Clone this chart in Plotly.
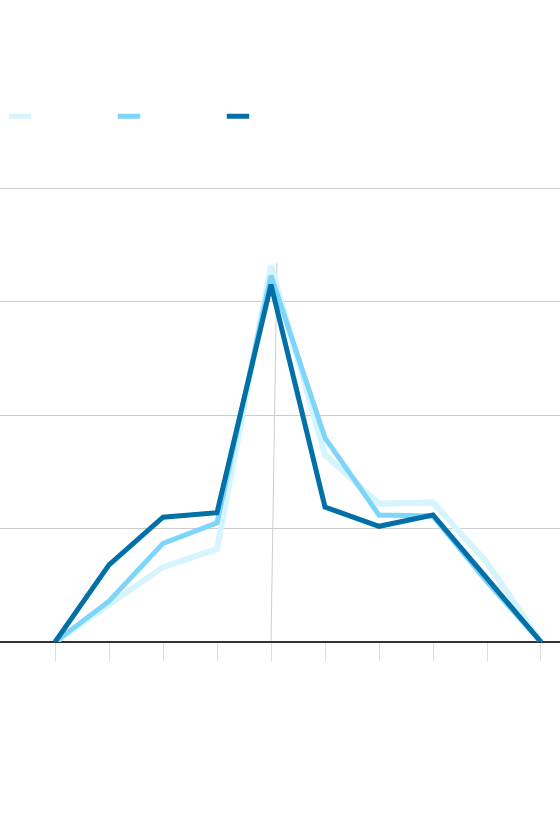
import plotly.graph_objects as go

# ---------- data ----------
x_vals = [0, 1, 2, 3, 4, 5, 6, 7, 8, 9]
light_vals = [0, 0.33, 0.66, 0.82, 3.32, 1.65, 1.22, 1.23, 0.70, 0]
mid_vals = [0, 0.36, 0.87, 1.05, 3.23, 1.80, 1.12, 1.11, 0.53, 0]
dark_vals = [0, 0.68, 1.10, 1.14, 3.15, 1.19, 1.02, 1.12, 0.56, 0]

series_names = ["", "", ""]
series_colors = ["#d5f4fd", "#7dd5fb", "#0070a6"]
series_widths = [6, 5, 5]

# thin marker line near the peak
marker_x = [4.11, 4.0]
marker_y = [3.34, 0]

fig = go.Figure()

for vals, color, width in zip(
    [light_vals, mid_vals, dark_vals], series_colors, series_widths
):
    fig.add_trace(go.Scatter(
        x=x_vals,
        y=vals,
        mode="lines",
        line=dict(color=color, width=width),
        showlegend=False,
        hoverinfo="skip",
    ))

# legend swatches (short dashes)
for name, color in zip(series_names, series_colors):
    fig.add_trace(go.Scatter(
        x=[None],
        y=[None],
        mode="markers",
        name=name,
        marker=dict(symbol="line-ew", size=16,
                    line=dict(color=color, width=5)),
    ))

fig.add_shape(
    type="line",
    x0=marker_x[0], y0=marker_y[0], x1=marker_x[1], y1=marker_y[1],
    line=dict(color="#cccccc", width=1),
    layer="below",
)

fig.update_layout(
    width=560,
    height=840,
    margin=dict(l=0, r=0, t=186, b=198),
    plot_bgcolor="white",
    paper_bgcolor="white",
    showlegend=True,
    legend=dict(
        orientation="h",
        x=0,
        xanchor="left",
        y=1.153,
        yanchor="middle",
        entrywidth=64,
        entrywidthmode="pixels",
        itemwidth=30,
        font=dict(size=12, color="#333"),
    ),
    xaxis=dict(
        range=[-1.019, 9.352],
        showgrid=False,
        zeroline=False,
        showticklabels=False,
        ticks="outside",
        ticklen=18,
        tickcolor="#dddddd",
        tickwidth=1,
        tickvals=x_vals,
        showline=False,
    ),
    yaxis=dict(
        range=[0, 4.02],
        showgrid=True,
        gridcolor="#cccccc",
        gridwidth=1,
        dtick=1,
        zeroline=True,
        zerolinecolor="#333333",
        zerolinewidth=2,
        showticklabels=False,
    ),
)

fig.write_html(
    "out.html",
    config={"displayModeBar": False},
    post_script="document.body.style.margin='0';",
)
